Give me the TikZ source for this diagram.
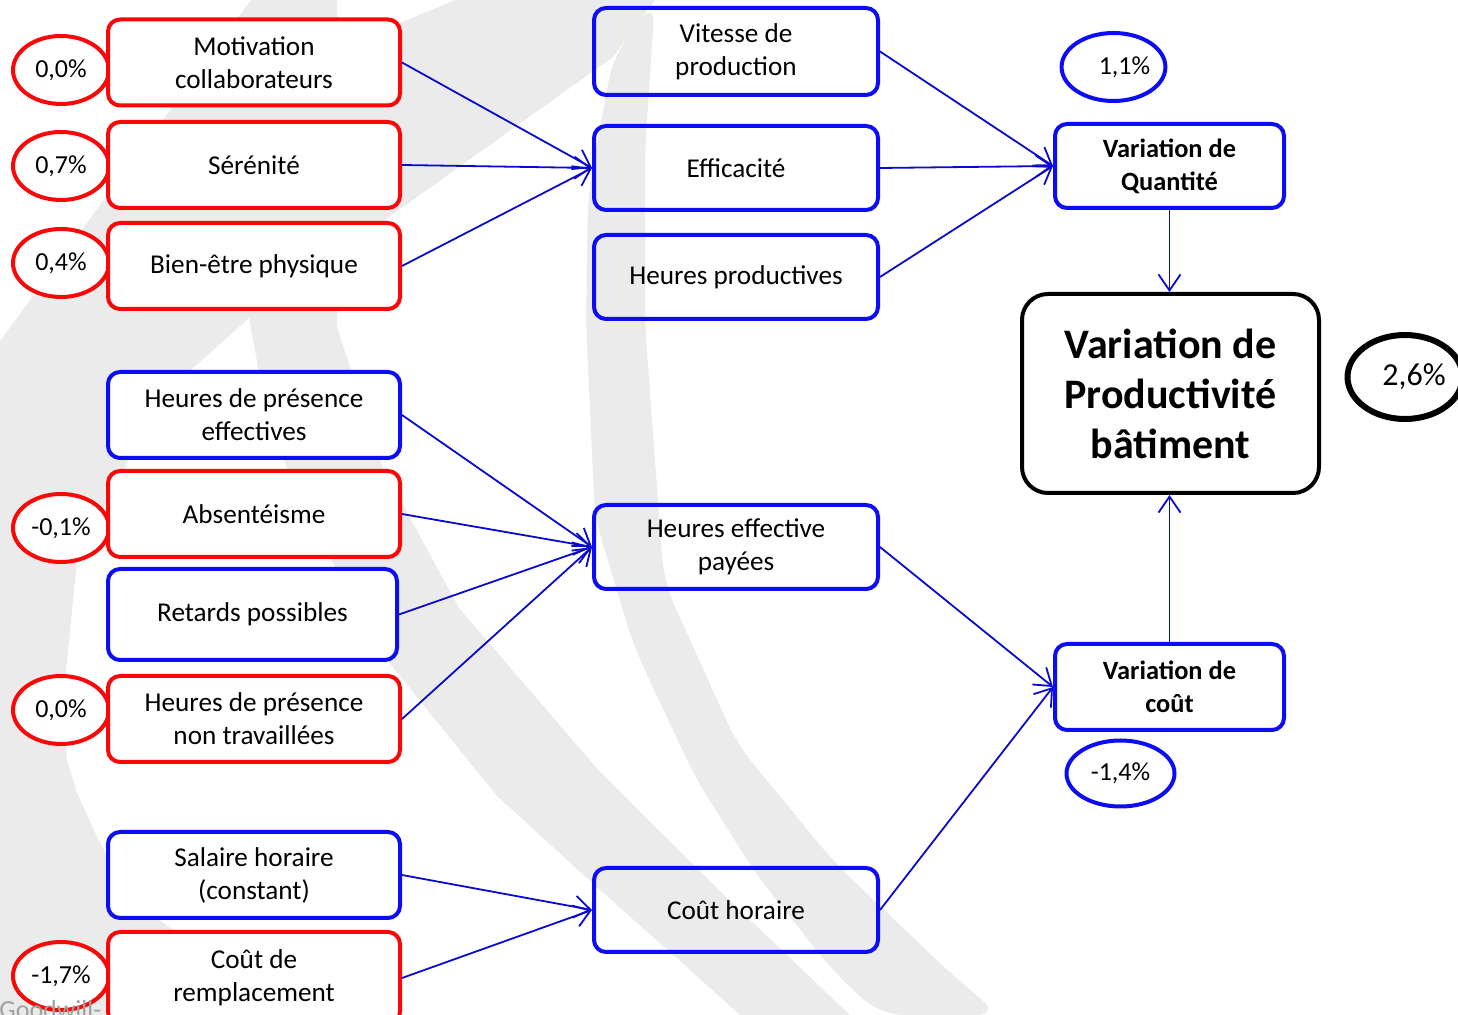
\documentclass[tikz,border=0pt]{standalone}
\usepackage{fontspec}
\setmainfont{Carlito}
\usetikzlibrary{arrows.meta,shapes.geometric}
\definecolor{wm}{RGB}{235,235,235}
\definecolor{rb}{RGB}{250,8,8}
\definecolor{bb}{RGB}{12,12,245}
\definecolor{ab}{RGB}{10,10,205}
\definecolor{wmtext}{RGB}{160,160,160}
\begin{document}
\begin{tikzpicture}[x=0.5pt,y=-0.5pt,
  box/.style={draw, rounded corners=6pt, line width=2pt, align=center, inner sep=0pt,
    font=\fontsize{13.6}{16.5}\selectfont},
  redbox/.style={box, draw=rb, fill=white, minimum width=146pt, minimum height=43pt},
  bluebox/.style={box, draw=bb, fill=white, minimum width=146pt, minimum height=43pt},
  midbox/.style={box, draw=bb, minimum width=142pt, minimum height=42pt},
  qbox/.style={box, draw=bb, fill=white, minimum width=114.5pt, minimum height=42pt,
    font=\bfseries\fontsize{13.2}{16.5}\selectfont},
  bigbox/.style={box, draw=black, fill=white, rounded corners=13pt, minimum width=148.5pt,
    minimum height=99.5pt, font=\bfseries\fontsize{21}{25}\selectfont},
  ell/.style={ellipse, draw, fill=white, line width=2pt, inner sep=0pt,
    minimum width=48pt, minimum height=34pt, font=\fontsize{13}{16}\selectfont},
  redell/.style={ell, draw=rb},
  blueell/.style={ell, draw=bb},
  arr/.style={draw=ab, line width=0.9pt, -{Straight Barb[length=8pt,width=11pt]}}
]
\useasboundingbox (0,0) rectangle (1458,1015);

% watermark
\fill[wm, even odd rule]
  (0,341) -- (251,0) -- (337,0) -- (337,327) -- (383,468) -- (459,608) -- (600,772)
  -- (729,900) -- (850,1015) -- (0,1015) -- cycle
  (249,318) -- (268,421) -- (306,514) -- (383,655) -- (497,796) -- (600,890)
  -- (690,970) -- (740,1015) -- (300,1015) -- (240,970) -- (173,930) -- (150,913)
  -- (120,880) -- (97,837) -- (77,793) -- (67,760) -- (63,702) -- (77,561)
  -- (161,397) -- cycle;
\fill[wm] (337,50) -- (400,23) -- (455,0) -- (655,0) -- (613,57) -- (403,207)
  -- (337,254) -- cycle;
\fill[wm, rounded corners=12pt] (613,57) -- (588,194) -- (586,324) -- (595,518)
  -- (634,647) -- (695,777) -- (756,874) -- (833,971) -- (880,1015) -- (1000,1015)
  -- (948,971) -- (833,861) -- (737,744) -- (664,582) -- (645,324) -- (645,150)
  -- (655,0) -- cycle;

% value ellipses (left)
\node[redell] (p1) at (61,70) {0,0\%};
\node[redell] (p2) at (61,166) {0,7\%};
\node[redell] (p3) at (61,263) {0,4\%};
\node[redell] (p4) at (61,528) {-0,1\%};
\node[redell] (p5) at (61,710) {0,0\%};
\node[redell] (p6) at (61,976) {-1,7\%};

\node[anchor=base west, text=wmtext, font=\fontsize{13}{16}\selectfont, inner sep=0pt]
  (gw) at (-1,1018) {Goodwill-};

% left column
\node[redbox] (mot) at (254,62.5) {Motivation\\collaborateurs};
\node[redbox] (ser) at (254,165) {Sérénité};
\node[redbox] (bie) at (254,266) {Bien-être physique};
\node[bluebox] (hpe) at (254,415) {Heures de présence\\effectives};
\node[redbox] (abs) at (254,514) {Absentéisme};
\node[bluebox, minimum width=144.5pt, minimum height=45.5pt] (ret) at (252.5,614.5) {Retards possibles};
\node[redbox] (hnt) at (254,719) {Heures de présence\\non travaillées};
\node[bluebox] (sal) at (254,875) {Salaire horaire\\(constant)};
\node[redbox, minimum height=46pt] (cdr) at (254,978) {Coût de\\remplacement};

% middle column
\node[midbox, minimum height=43.5pt] (vit) at (736,51.5) {Vitesse de\\production};
\node[midbox] (eff) at (736,168) {Efficacité};
\node[midbox] (hpr) at (736,277) {Heures productives};
\node[midbox] (hep) at (736,547) {Heures effective\\payées};
\node[midbox] (cho) at (736,910) {Coût horaire};

% right column
\node[qbox] (vq) at (1169.5,166) {Variation de\\Quantité};
\node[qbox, minimum height=43pt] (vc) at (1169.5,687) {Variation de\\coût};
\node[bigbox] (vp) at (1170.5,393.5) {Variation de\\Productivité\\bâtiment};

\node[blueell, minimum width=50pt] (q1) at (1113.5,67) {\hspace*{11pt}1,1\%};
\node[blueell, minimum width=54pt, minimum height=33pt] (q2) at (1120.5,773.5) {-1,4\%};
\node[ell, draw=black, line width=3pt, minimum width=51pt, minimum height=42pt,
  font=\fontsize{16}{18}\selectfont] (q3) at (1405,377) {\hspace*{9pt}2,6\%};

% connectors
\draw[arr] (mot.east) -- (eff.west);
\draw[arr] (ser.east) -- (eff.west);
\draw[arr] (bie.east) -- (eff.west);
\draw[arr] (vit.east) -- (vq.west);
\draw[arr] (eff.east) -- (vq.west);
\draw[arr] (hpr.east) -- (vq.west);
\draw[arr] (vq.south) -- (vq.south |- vp.north);
\draw[arr] (hpe.east) -- (hep.west);
\draw[arr] (abs.east) -- (hep.west);
\draw[arr] (ret.east) -- (hep.west);
\draw[arr] (hnt.east) -- (hep.west);
\draw[arr] (sal.east) -- (cho.west);
\draw[arr] (cdr.east) -- (cho.west);
\draw[arr] (hep.east) -- (vc.west);
\draw[arr] (cho.east) -- (vc.west);
\draw[arr] (vc.north) -- (vc.north |- vp.south);
\end{tikzpicture}
\end{document}
